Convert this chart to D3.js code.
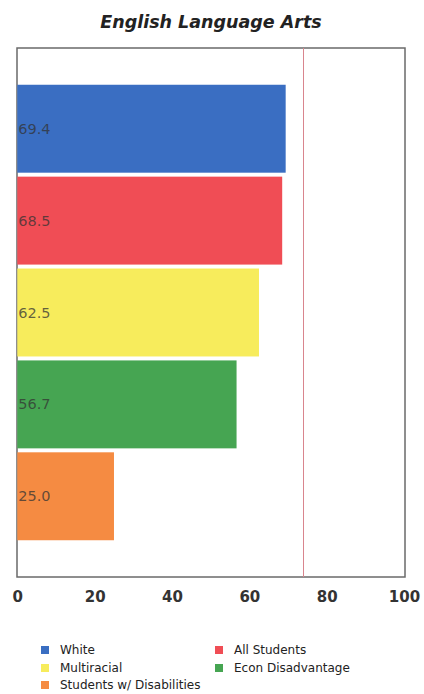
<!DOCTYPE html>
<html><head><meta charset="utf-8">
<script src="https://cdn.jsdelivr.net/npm/d3@7"></script>
<style>body{margin:0;background:#fff;}svg{display:block;}</style>
</head><body>
<script>
const categories = ["White", "All Students", "Multiracial", "Econ Disadvantage", "Students w/ Disabilities"];
const values = [69.4, 68.5, 62.5, 56.7, 25.0];
const colors = ["#3a6ec2", "#f04d55", "#f7ec5c", "#46a552", "#f58b42"];
const xTicks = [0, 20, 40, 60, 80, 100];
const targetLine = [74];
const legendOrder = ["White", "All Students", "Multiracial", "Econ Disadvantage", "Students w/ Disabilities"];

(function () {
const W = 424, H = 694;
const svg = d3.select("body").append("svg").attr("width", W).attr("height", H);

const pLeft = 17, pRight = 405, pTop = 48, pBottom = 577;
const x = d3.scaleLinear().domain([0, 100]).range([17.3, 404]);
const y = d3.scaleBand().domain(categories).range([pTop, pBottom]).paddingInner(0.043).paddingOuter(0.4);
const color = d3.scaleOrdinal().domain(categories).range(colors);

svg.append("text").attr("x", 211).attr("y", 28).attr("text-anchor", "middle")
  .style("font-family", "DejaVu Sans").style("font-style", "italic").style("font-weight", "600")
  .style("font-size", "17.5px").attr("fill", "#222").text("English Language Arts");

svg.append("rect").attr("x", pLeft).attr("y", pTop).attr("width", pRight - pLeft).attr("height", pBottom - pTop)
  .attr("fill", "#fff").attr("stroke", "#6a6a6a").attr("stroke-width", 1.5);

svg.selectAll("rect.bar").data(categories).enter().append("rect").attr("class", "bar")
  .attr("x", x(0)).attr("y", d => y(d))
  .attr("width", (d, i) => x(values[i]) - x(0)).attr("height", y.bandwidth())
  .attr("fill", d => color(d));

svg.selectAll("line.target").data(targetLine).enter().append("line").attr("class", "target")
  .attr("x1", d => Math.round(x(d)) + 0.5).attr("x2", d => Math.round(x(d)) + 0.5).attr("y1", pTop).attr("y2", pBottom)
  .attr("stroke", "#d9858e").attr("stroke-width", 1);

svg.selectAll("text.val").data(categories).enter().append("text").attr("class", "val")
  .attr("x", x(0) + 1).attr("y", d => y(d) + y.bandwidth() / 2).attr("dy", "0.35em")
  .style("font-family", "DejaVu Sans").style("font-size", "14.5px").attr("fill", "#333").attr("fill-opacity", 0.75)
  .text((d, i) => values[i].toFixed(1));

const axis = d3.axisBottom(x).tickValues(xTicks).tickSize(0).tickPadding(0);
const ax = svg.append("g").attr("transform", `translate(0,${pBottom + 14})`).call(axis);
ax.select(".domain").remove();
ax.selectAll("text").style("font-family", "DejaVu Sans").style("font-weight", "bold")
  .style("font-size", "15px").attr("fill", "#333").attr("dy", "0.71em");

const legX = [41, 215], legY = [650, 668, 685];
const lg = svg.selectAll("g.leg").data(legendOrder).enter().append("g").attr("class", "leg")
  .attr("transform", (d, i) => `translate(${legX[i % 2]},${legY[Math.floor(i / 2)]})`);
lg.append("rect").attr("x", 0).attr("y", -4).attr("width", 8).attr("height", 8).attr("fill", d => color(d));
lg.append("text").attr("x", 19).attr("y", 0).attr("dy", "0.35em")
  .style("font-family", "DejaVu Sans").style("font-size", "12px").style("font-weight", "500").attr("fill", "#222").text(d => d);
})();
</script>
</body></html>
